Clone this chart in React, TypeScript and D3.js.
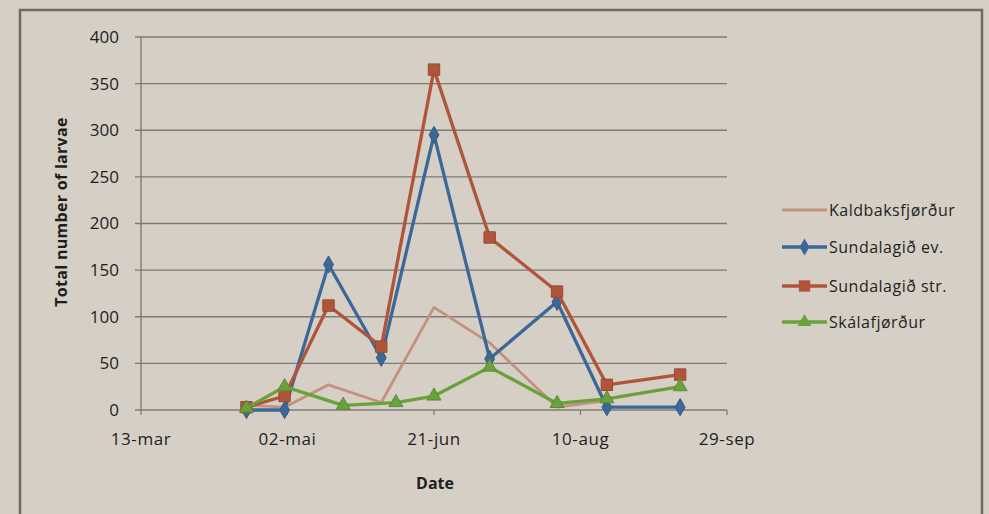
import React from "react";
import * as d3 from "d3";

const dates = [
  "2010-04-18", "2010-05-01", "2010-05-16", "2010-05-21", "2010-06-03",
  "2010-06-08", "2010-06-21", "2010-07-10", "2010-08-02", "2010-08-19", "2010-09-13",
];
const kaldbaks = [5, 3, 27, null, 8, null, 110, 72, 3, 10, null];
const sundEv = [0, 0, 156, null, 56, null, 295, 55, 116, 3, 3];
const sundStr = [3, 15, 112, null, 68, null, 365, 185, 127, 27, 38];
const skala = [2, 25, null, 5, null, 8, 15, 46, 7, 12, 25];

const yTicks = [0, 50, 100, 150, 200, 250, 300, 350, 400];
const xTickDates = ["2010-03-13", "2010-05-02", "2010-06-21", "2010-08-10", "2010-09-29"];
const seriesNames = ["Kaldbaksfjørður", "Sundalagið ev.", "Sundalagið str.", "Skálafjørður"];

const locale = d3.timeFormatLocale({
  dateTime: "%d.%m.%Y %H:%M",
  date: "%d.%m.%Y",
  time: "%H:%M:%S",
  periods: ["", ""],
  days: ["sunnudagur", "mánadagur", "týsdagur", "mikudagur", "hósdagur", "fríggjadagur", "leygardagur"],
  shortDays: ["sun", "mán", "týs", "mik", "hós", "frí", "ley"],
  months: ["januar", "februar", "mars", "apríl", "mai", "juni", "juli", "august", "september", "oktober", "november", "desember"],
  shortMonths: ["jan", "feb", "mar", "apr", "mai", "jun", "jul", "aug", "sep", "okt", "nov", "des"],
});
const fmt = locale.format("%d-%b");
const parse = d3.timeParse("%Y-%m-%d");

const FONT = "'Open Sans', 'Liberation Sans', sans-serif";
const TXT = "#1e1e1e";

export default function App() {
  const W = 989, H = 514;
  const x = d3.scaleTime()
    .domain([parse(xTickDates[0])!, parse(xTickDates[xTickDates.length - 1])!])
    .range([141, 727]);
  const y = d3.scaleLinear().domain([0, 400]).range([410, 37]);

  const series = [
    { name: seriesNames[0], vals: kaldbaks, color: "#c4917c", width: 2.8, marker: "none" },
    { name: seriesNames[1], vals: sundEv, color: "#3a6898", width: 3.3, marker: "diamond" },
    { name: seriesNames[2], vals: sundStr, color: "#b0553a", width: 3.3, marker: "square" },
    { name: seriesNames[3], vals: skala, color: "#6aa13a", width: 3.3, marker: "triangle" },
  ];

  const line = d3.line<[Date, number]>()
    .x((d) => x(d[0]))
    .y((d) => y(d[1]));

  const symbolFor = (m: string) =>
    m === "diamond" ? d3.symbol().type(d3.symbolDiamond).size(85)()
    : m === "square" ? d3.symbol().type(d3.symbolSquare).size(130)()
    : m === "triangle" ? d3.symbol().type(d3.symbolTriangle).size(85)()
    : null;

  const legendY = [210, 247, 286, 322];

  return (
    <svg width={W} height={H} style={{ position: "absolute", left: 0, top: 0, display: "block" }}>
      <rect x={0} y={0} width={W} height={H} fill="#d6cfc6" />
      <rect x={20} y={10} width={962} height={520} fill="none" stroke="#6e6c62" strokeWidth={2.5} />

      {yTicks.map((t) => (
        <g key={t}>
          <line x1={135} x2={727} y1={y(t)} y2={y(t)} stroke="#7f7b74" strokeWidth={1.4} />
          <text x={119} y={y(t)} dy="0.35em" textAnchor="end" fontFamily={FONT} fontSize={17} fill={TXT}>{t}</text>
        </g>
      ))}
      <line x1={141} x2={141} y1={37} y2={410} stroke="#7f7b74" strokeWidth={1.4} />
      {xTickDates.map((s) => {
        const d = parse(s)!;
        return (
          <g key={s}>
            <line x1={x(d)} x2={x(d)} y1={410} y2={415} stroke="#7f7b74" strokeWidth={1.2} />
            <text x={x(d)} y={445} textAnchor="middle" fontFamily={FONT} fontSize={17} letterSpacing={0.6} fill={TXT}>{fmt(d)}</text>
          </g>
        );
      })}

      <text transform="translate(67,212) rotate(-90)" textAnchor="middle" fontFamily={FONT} fontSize={16} fontWeight="bold" letterSpacing={0.3} fill={TXT}>Total number of larvae</text>
      <text x={435} y={489} textAnchor="middle" fontFamily={FONT} fontSize={16} fontWeight="bold" fill={TXT}>Date</text>

      {series.map((s) => {
        const pts = dates
          .map((ds, i) => [parse(ds)!, s.vals[i]] as [Date, number | null])
          .filter((p) => p[1] !== null) as [Date, number][];
        const sym = symbolFor(s.marker);
        return (
          <g key={s.name}>
            <path d={line(pts) || ""} fill="none" stroke={s.color} strokeWidth={s.width} strokeLinejoin="round" />
            {sym && pts.map((p, i) => (
              <path key={i} d={sym} transform={`translate(${x(p[0])},${y(p[1])})`} fill={s.color} stroke={d3.color(s.color)!.darker(0.4).toString()} strokeWidth={1} />
            ))}
          </g>
        );
      })}

      {series.map((s, i) => {
        const sym = symbolFor(s.marker);
        const ly = legendY[i];
        return (
          <g key={s.name}>
            <line x1={782} x2={827} y1={ly} y2={ly} stroke={s.color} strokeWidth={s.width} />
            {sym && <path d={sym} transform={`translate(804.5,${ly})`} fill={s.color} />}
            <text x={829} y={ly} dy="0.35em" fontFamily={FONT} fontSize={16} letterSpacing={0.5} fill={TXT}>{s.name}</text>
          </g>
        );
      })}
    </svg>
  );
}
